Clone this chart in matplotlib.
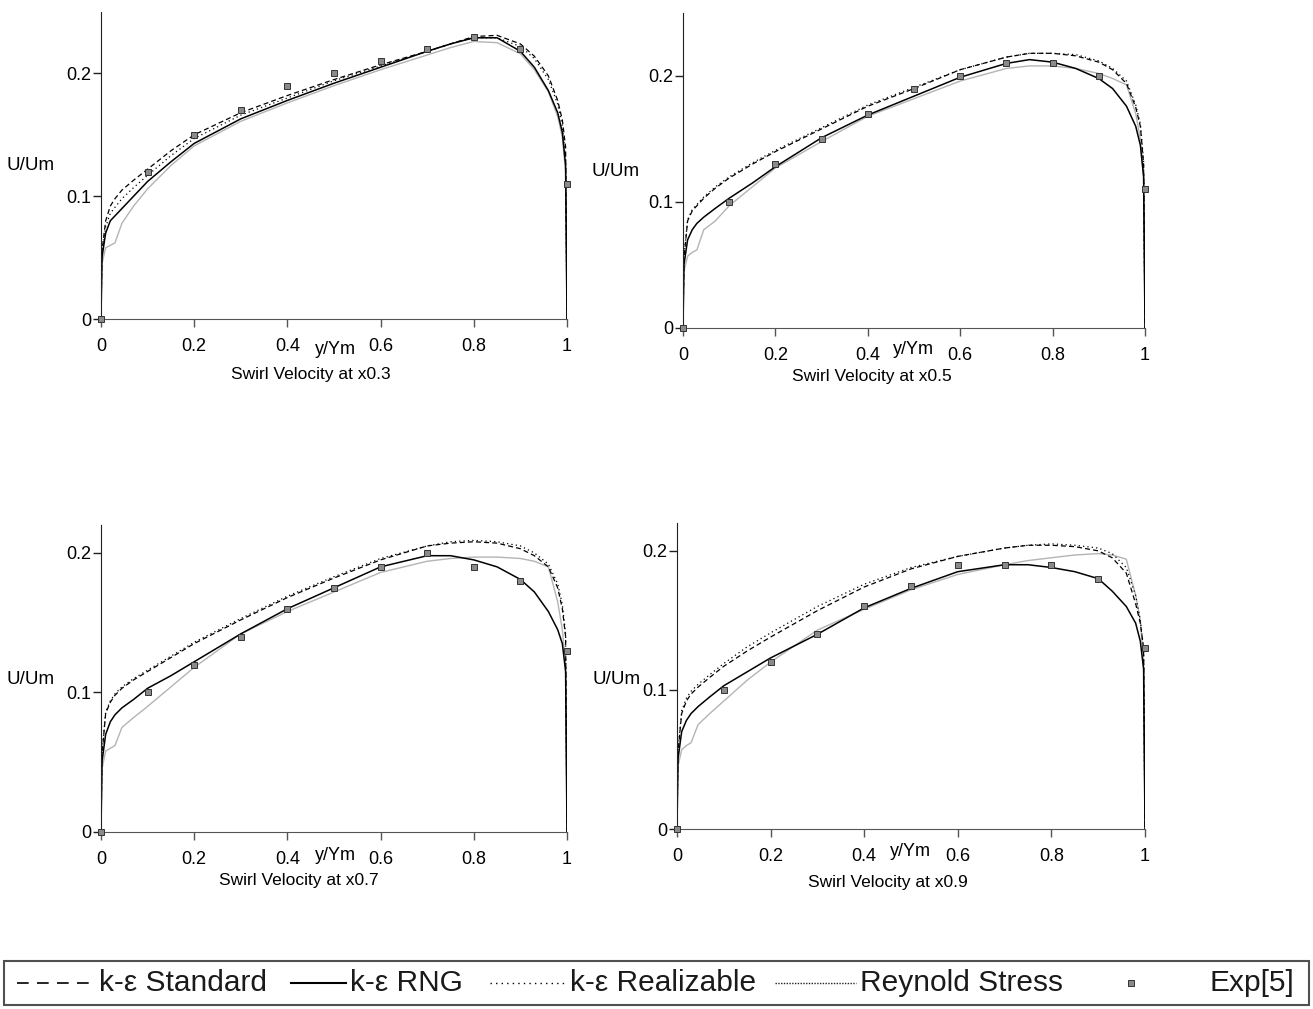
import matplotlib
matplotlib.use("Agg")
import matplotlib.pyplot as plt
from matplotlib.lines import Line2D
from matplotlib.patches import Rectangle

plt.rcParams['font.family'] = ['Liberation Sans', 'DejaVu Sans']

W, H = 1313, 1009

# positions along the wall (y/Ym) where the model curves were read
y_pos = [0, 0.002, 0.01, 0.02, 0.03, 0.045, 0.07, 0.1, 0.15, 0.2, 0.3, 0.4, 0.5,
         0.6, 0.7, 0.75, 0.8, 0.85, 0.9, 0.93, 0.96, 0.98, 0.99, 0.997, 1.0]
exp_pos = [0, 0.1, 0.2, 0.3, 0.4, 0.5, 0.6, 0.7, 0.8, 0.9, 1.0]

# x0.3
std_03 = [0, 0.055, 0.080, 0.092, 0.098, 0.105, 0.113, 0.122, 0.137, 0.150, 0.168, 0.182, 0.195,
          0.207, 0.218, 0.224, 0.230, 0.231, 0.224, 0.214, 0.198, 0.178, 0.162, 0.140, 0]
rng_03 = [0, 0.050, 0.070, 0.080, 0.084, 0.090, 0.100, 0.112, 0.128, 0.143, 0.163, 0.178, 0.192,
          0.205, 0.218, 0.224, 0.229, 0.229, 0.218, 0.205, 0.186, 0.168, 0.152, 0.125, 0]
rea_03 = [0, 0.052, 0.075, 0.086, 0.091, 0.098, 0.107, 0.117, 0.133, 0.147, 0.166, 0.180, 0.194,
          0.206, 0.218, 0.224, 0.229, 0.229, 0.222, 0.212, 0.195, 0.175, 0.157, 0.130, 0]
rsm_03 = [0, 0.045, 0.058, 0.060, 0.062, 0.078, 0.092, 0.106, 0.125, 0.141, 0.161, 0.176, 0.190,
          0.203, 0.215, 0.221, 0.226, 0.225, 0.216, 0.203, 0.185, 0.165, 0.148, 0.120, 0]
exp_03 = [0, 0.12, 0.15, 0.17, 0.19, 0.20, 0.21, 0.22, 0.23, 0.22, 0.11]

# x0.5
std_05 = [0, 0.055, 0.085, 0.093, 0.097, 0.103, 0.111, 0.119, 0.130, 0.140, 0.158, 0.176, 0.190,
          0.205, 0.215, 0.218, 0.218, 0.216, 0.211, 0.205, 0.194, 0.175, 0.160, 0.130, 0]
rng_05 = [0, 0.050, 0.070, 0.078, 0.083, 0.088, 0.095, 0.103, 0.115, 0.128, 0.151, 0.169, 0.184,
          0.199, 0.210, 0.213, 0.211, 0.206, 0.198, 0.190, 0.176, 0.160, 0.145, 0.120, 0]
rea_05 = [0, 0.056, 0.086, 0.094, 0.098, 0.104, 0.112, 0.120, 0.131, 0.141, 0.159, 0.177, 0.191,
          0.205, 0.215, 0.218, 0.218, 0.217, 0.212, 0.206, 0.196, 0.177, 0.162, 0.132, 0]
rsm_05 = [0, 0.045, 0.057, 0.060, 0.062, 0.078, 0.085, 0.097, 0.112, 0.127, 0.148, 0.168, 0.182,
          0.196, 0.206, 0.208, 0.208, 0.206, 0.202, 0.198, 0.193, 0.170, 0.150, 0.120, 0]
exp_05 = [0, 0.10, 0.13, 0.15, 0.17, 0.19, 0.20, 0.21, 0.21, 0.20, 0.11]

# x0.7
std_07 = [0, 0.055, 0.085, 0.093, 0.098, 0.103, 0.109, 0.115, 0.125, 0.135, 0.152, 0.168, 0.182,
          0.195, 0.205, 0.207, 0.208, 0.207, 0.203, 0.198, 0.190, 0.175, 0.160, 0.140, 0]
rng_07 = [0, 0.050, 0.070, 0.079, 0.084, 0.089, 0.095, 0.103, 0.112, 0.122, 0.142, 0.160, 0.175,
          0.190, 0.198, 0.198, 0.195, 0.190, 0.181, 0.172, 0.158, 0.145, 0.135, 0.115, 0]
rea_07 = [0, 0.056, 0.086, 0.094, 0.099, 0.104, 0.110, 0.116, 0.126, 0.136, 0.153, 0.169, 0.183,
          0.196, 0.205, 0.208, 0.209, 0.208, 0.205, 0.200, 0.192, 0.178, 0.163, 0.142, 0]
rsm_07 = [0, 0.045, 0.058, 0.060, 0.062, 0.075, 0.082, 0.090, 0.104, 0.118, 0.142, 0.158, 0.172,
          0.186, 0.194, 0.196, 0.197, 0.197, 0.196, 0.194, 0.190, 0.165, 0.145, 0.120, 0]
exp_07 = [0, 0.10, 0.12, 0.14, 0.16, 0.175, 0.19, 0.20, 0.19, 0.18, 0.13]

# x0.9
std_09 = [0, 0.055, 0.083, 0.092, 0.097, 0.102, 0.109, 0.117, 0.128, 0.138, 0.157, 0.174, 0.187,
          0.196, 0.202, 0.204, 0.204, 0.203, 0.200, 0.195, 0.184, 0.162, 0.148, 0.130, 0]
rng_09 = [0, 0.050, 0.070, 0.078, 0.083, 0.088, 0.095, 0.103, 0.113, 0.123, 0.140, 0.159, 0.173,
          0.185, 0.190, 0.190, 0.188, 0.185, 0.180, 0.171, 0.160, 0.148, 0.135, 0.115, 0]
rea_09 = [0, 0.056, 0.085, 0.094, 0.099, 0.104, 0.111, 0.119, 0.131, 0.141, 0.160, 0.176, 0.188,
          0.196, 0.202, 0.204, 0.205, 0.204, 0.202, 0.198, 0.188, 0.168, 0.150, 0.130, 0]
rsm_09 = [0, 0.045, 0.057, 0.060, 0.062, 0.075, 0.083, 0.092, 0.107, 0.120, 0.143, 0.158, 0.172,
          0.183, 0.190, 0.193, 0.195, 0.197, 0.198, 0.197, 0.194, 0.168, 0.150, 0.120, 0]
exp_09 = [0, 0.10, 0.12, 0.14, 0.16, 0.175, 0.19, 0.19, 0.19, 0.18, 0.13]

x_ticks = [0, 0.2, 0.4, 0.6, 0.8, 1]
x_labels = ["0", "0.2", "0.4", "0.6", "0.8", "1"]
y_ticks = [0, 0.1, 0.2]
y_labels = ["0", "0.1", "0.2"]

# panel: (title, data, ymax, axes box px [left, right, top, bottom], U/Um px, y/Ym px, title px)
panels = [
    ("Swirl Velocity at x0.3", (std_03, rng_03, rea_03, rsm_03, exp_03), 0.25,
     (101, 567, 12, 319), (55, 166), (335, 349), (311, 374)),
    ("Swirl Velocity at x0.5", (std_05, rng_05, rea_05, rsm_05, exp_05), 0.25,
     (683, 1145, 13, 328), (640, 172), (913, 350), (872, 376)),
    ("Swirl Velocity at x0.7", (std_07, rng_07, rea_07, rsm_07, exp_07), 0.22,
     (101, 567, 525, 832), (55, 680), (335, 855), (299, 880)),
    ("Swirl Velocity at x0.9", (std_09, rng_09, rea_09, rsm_09, exp_09), 0.22,
     (677, 1145, 523, 829), (641, 679), (910, 852), (888, 882)),
]

fig = plt.figure(figsize=(W / 100, H / 100), dpi=100)


def fx(x):
    return x / W


def fy(y):
    return 1 - y / H


for title, (std, rng, rea, rsm, exp), ymax, box, uum, yym, tpos in panels:
    left, right, top, bottom = box
    ax = fig.add_axes([fx(left), fy(bottom), (right - left) / W, (bottom - top) / H])
    ax.plot(y_pos, rsm, color='#b4b4b4', lw=1.0)
    ax.plot(y_pos, std, color='black', lw=0.9, ls=(0, (4, 2.5)))
    ax.plot(y_pos, rea, color='black', lw=0.9, ls=(0, (1, 2.5)))
    ax.plot(y_pos, rng, color='black', lw=1.1)
    ax.plot(exp_pos, exp, ls='none', marker='s', ms=4.8, mfc='#8a8a8a',
            mec='#333333', mew=0.7, clip_on=False, zorder=5)
    ax.set_xlim(0, 1)
    ax.set_ylim(0, ymax)
    ax.set_xticks(x_ticks, x_labels)
    ax.set_yticks(y_ticks, y_labels)
    for s in ('top', 'right'):
        ax.spines[s].set_visible(False)
    ax.spines['left'].set_color('#202020')
    ax.spines['bottom'].set_color('#555555')
    ax.tick_params(axis='x', direction='out', length=6, width=1, color='#555555',
                   labelsize=13, pad=8)
    ax.tick_params(axis='y', direction='out', length=6, width=1, color='#202020',
                   labelsize=13, pad=1)
    fig.text(fx(uum[0]), fy(uum[1]), "U/Um", ha='right', va='center', fontsize=13.5)
    fig.text(fx(yym[0]), fy(yym[1]), "y/Ym", ha='center', va='center', fontsize=13)
    fig.text(fx(tpos[0]), fy(tpos[1]), title, ha='center', va='center', fontsize=12.5)

# legend box along the bottom
fig.add_artist(Rectangle((fx(4), fy(1005)), (1309 - 4) / W, (1005 - 961) / H,
                         transform=fig.transFigure, fill=False, ec='#505050', lw=1.5))
ly = fy(983)
legend_items = [
    ((17, 92), dict(color='black', lw=1.2, ls=(0, (7, 5))), 99, "k-ε Standard"),
    ((291, 346), dict(color='black', lw=1.5), 350, "k-ε RNG"),
    ((490, 566), dict(color='black', lw=1.0, ls=(0, (1, 3))), 570, "k-ε Realizable"),
    ((775, 856), dict(color='#222222', lw=1.0, ls=(0, (1, 1))), 860, "Reynold Stress"),
]
for (x0, x1), style, tx, label in legend_items:
    fig.add_artist(Line2D([fx(x0), fx(x1)], [ly, ly], transform=fig.transFigure, **style))
    fig.text(fx(tx), ly, label, ha='left', va='center', fontsize=21.5, color='#1a1a1a')
fig.add_artist(Line2D([fx(1131)], [ly], transform=fig.transFigure, ls='none', marker='s',
                      ms=4.5, mfc='#8a8a8a', mec='#333333', mew=0.7))
fig.text(fx(1210), ly, "Exp[5]", ha='left', va='center', fontsize=21.5, color='#1a1a1a')

fig.savefig("out.png", dpi=100)
